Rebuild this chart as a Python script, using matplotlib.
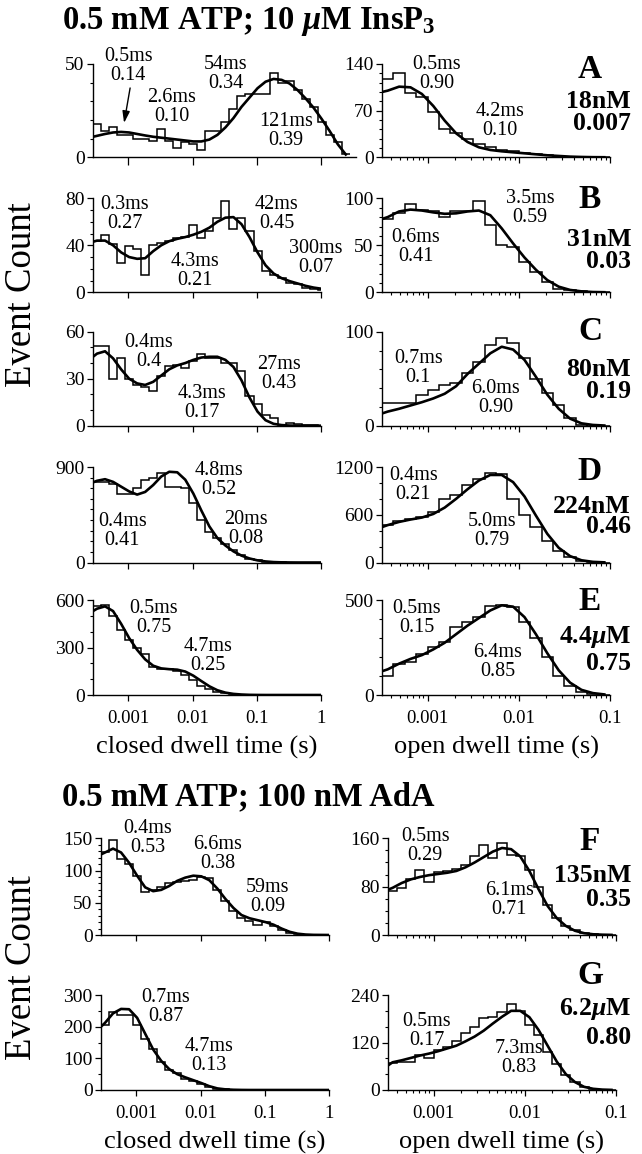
import numpy as np
import matplotlib
matplotlib.use('Agg')
import matplotlib.pyplot as plt
from matplotlib.ticker import LogLocator, NullLocator, NullFormatter, MultipleLocator

plt.rcParams['font.family'] = ['Liberation Serif', 'DejaVu Serif']
plt.rcParams['mathtext.fontset'] = 'custom'
plt.rcParams['mathtext.rm'] = 'Liberation Serif:bold'
plt.rcParams['mathtext.it'] = 'Liberation Serif:italic:bold'
plt.rcParams['mathtext.bf'] = 'Liberation Serif:bold'

# ---- histogram counts (log bins) and fitted curves ----
# closed dwell: bins start at 10^-3.55 s, 8 bins/decade
# open dwell: bins start at 10^-3.5 s, 8 bins/decade (A-E), 10 bins/decade (F,G)
# fits: first value at left axis edge, then one value per bin centre
a_closed = [18, 14, 16, 12, 12, 10, 10, 9, 15, 9, 5, 8, 7, 4, 14, 14, 19, 26, 33, 34,
            34, 34, 45, 40, 41, 36, 31, 27, 19, 12, 8, 2]
a_closed_fit = [11, 11.5, 12.5, 13.3, 13.6, 13.3, 12.5, 11.7, 11, 10.5, 10, 9.5, 9, 8.5,
                8.5, 9.5, 12, 16, 21, 27, 32, 37, 40.5, 42, 41.5, 39.5, 36, 31.5, 26.5,
                20.5, 14, 7, 1.5]
a_open = [117, 126, 97, 91, 68, 43, 36, 28, 20, 16, 11, 9, 7, 5, 3, 2, 1, 1, 0, 0]
a_open_fit = [98, 100, 106, 105, 95, 77, 55, 36, 23, 15, 11, 9, 7.5, 6, 4.5, 3, 2, 1,
              0.5, 0.2, 0.1]

b_closed = [44, 49, 41, 25, 39, 37, 15, 40, 42, 44, 46, 47, 57, 46, 52, 63, 78, 54, 63,
            52, 35, 18, 15, 12, 8, 7, 4, 3, 2]
b_closed_fit = [43, 44, 44, 40, 34, 30, 28.5, 29, 35, 40, 43.5, 45.5, 47, 49, 51.5, 55,
                60, 63.5, 64, 58, 47, 34, 23, 16, 12, 9.5, 7.5, 5.5, 4, 3]
b_open = [78, 84, 94, 88, 87, 80, 87, 87, 97, 72, 50, 48, 32, 22, 11, 4, 2, 1, 0, 0]
b_open_fit = [78, 80, 86, 88, 87, 85, 83.5, 84, 86, 87, 82, 68, 52, 37, 24, 13, 6, 2.5,
              1, 0.3, 0.1]

c_closed = [51, 51, 30, 43, 30, 26, 25, 22, 32, 38, 39, 37, 41, 46, 43, 43, 40, 40, 35,
            19, 14, 7, 5, 0.4, 1.5, 0.8, 0.4, 0.4, 0]
c_closed_fit = [44, 46, 47.5, 43, 36, 30, 27, 26, 28, 32, 36, 38.5, 40, 42, 43.5, 44, 44,
                42, 37.5, 29, 18, 9, 3.5, 1.2, 0.4, 0.1, 0, 0, 0, 0]
c_open = [24, 24, 24, 33, 38, 43, 45, 56, 68, 86, 93, 88, 72, 50, 35, 22, 8, 1, 0, 0]
c_open_fit = [13, 15, 18, 21.5, 25, 29, 34, 42, 55, 66, 77, 84, 81, 70, 52, 33, 18, 7.5,
              2.5, 0.8, 0.2]

d_closed = [763, 763, 738, 645, 645, 700, 780, 795, 840, 715, 715, 700, 560, 400, 290,
            230, 175, 115, 70, 35, 20, 8, 4, 2, 0, 0, 0, 0, 0]
d_closed_fit = [755, 770, 785, 760, 715, 670, 640, 665, 730, 810, 855, 850, 780, 650,
                490, 340, 230, 160, 105, 65, 38, 20, 10, 4, 1.5, 0.5, 0, 0, 0, 0]
d_open = [470, 520, 550, 570, 630, 800, 850, 975, 1045, 1120, 1115, 800, 600, 440, 275,
          150, 65, 20, 5, 0]
d_open_fit = [445, 470, 510, 540, 565, 610, 690, 800, 920, 1030, 1100, 1100, 1010, 830,
              590, 360, 185, 80, 28, 8, 2]

e_closed = [560, 568, 500, 410, 345, 300, 260, 175, 165, 165, 150, 125, 95, 60, 35, 20,
            10, 5, 2, 0, 0, 0, 0, 0, 0, 0, 0, 0, 0]
e_closed_fit = [530, 545, 560, 530, 450, 360, 285, 225, 185, 168, 163, 160, 148, 122, 88,
                55, 30, 15, 7, 3, 1, 0.3, 0, 0, 0, 0, 0, 0, 0, 0]
e_open = [100, 165, 175, 215, 255, 280, 360, 385, 410, 470, 475, 465, 385, 300, 200, 100,
          45, 18, 5, 1]
e_open_fit = [125, 135, 165, 190, 210, 240, 275, 320, 365, 405, 445, 472, 465, 410, 320,
              220, 130, 65, 27, 10, 3]

f_closed = [128, 148, 118, 110, 92, 66, 70, 75, 80, 82, 84, 86, 90, 88, 70, 52, 38, 27,
            22, 16, 20, 14, 8, 3, 1, 0, 0, 0, 0]
f_closed_fit = [125, 128, 134, 128, 112, 92, 74, 68, 70, 76, 84, 89, 92, 91, 85, 72, 56,
                42, 31, 26, 23, 20, 16, 10, 5, 2, 0.7, 0.2, 0.1, 0]
f_open = [73, 78, 92, 108, 88, 105, 106, 110, 116, 130, 149, 127, 153, 132, 130, 108,
          80, 50, 28, 15, 8, 4, 1, 0, 0]
f_open_fit = [75, 78, 86, 92, 96, 99, 101, 103, 106, 112, 120, 129, 138, 144, 142, 130,
              106, 76, 48, 28, 15, 7, 3, 1.2, 0.5, 0.2]

g_closed = [205, 247, 238, 238, 205, 160, 128, 88, 62, 55, 35, 28, 20, 10, 4, 2, 0, 0,
            0, 0, 0, 0, 0, 0, 0, 0, 0, 0, 0]
g_closed_fit = [200, 212, 242, 256, 255, 228, 178, 128, 92, 66, 50, 40, 31, 22, 12, 5, 2,
                0.7, 0.2, 0, 0, 0, 0, 0, 0, 0, 0, 0, 0, 0]
g_open = [68, 70, 72, 88, 82, 100, 108, 125, 145, 160, 182, 185, 196, 218, 200, 165, 140,
          95, 65, 38, 20, 8, 3, 1, 0]
g_open_fit = [62, 70, 75, 81, 87, 92, 98, 105, 112, 123, 135, 150, 168, 185, 200, 200,
              184, 152, 112, 72, 40, 20, 8, 3, 1, 0.3]

letters = ['A', 'B', 'C', 'D', 'E', 'F', 'G']
concs = ['18nM', '31nM', '80nM', '224nM', r'4.4$\mu$M', '135nM', r'6.2$\mu$M']
p_open = ['0.007', '0.03', '0.19', '0.46', '0.75', '0.35', '0.80']

closed_ticks = [[0, 50], [0, 40, 80], [0, 30, 60], [0, 900], [0, 300, 600],
                [0, 50, 100, 150], [0, 100, 200, 300]]
open_ticks = [[0, 70, 140], [0, 50, 100], [0, 100], [0, 600, 1200], [0, 500],
              [0, 80, 160], [0, 120, 240]]
closed_minor = [10, 10, 10, 100, 100, 10, 50]
open_minor = [14, 10, 20, 200, 100, 20, 40]

closed_notes = [
    [('0.5ms\n0.14', 0.134, 0.978), ('2.6ms\n0.10', 0.30, 0.54),
     ('54ms\n0.34', 0.504, 0.896), ('121ms\n0.39', 0.733, 0.28)],
    [('0.3ms\n0.27', 0.14, 0.835), ('42ms\n0.45', 0.806, 0.835),
     ('4.3ms\n0.21', 0.447, 0.223), ('300ms\n0.07', 0.977, 0.362)],
    [('0.4ms\n0.4', 0.243, 0.779), ('4.3ms\n0.17', 0.477, 0.238),
     ('27ms\n0.43', 0.816, 0.552)],
    [('4.8ms\n0.52', 0.553, 0.865), ('0.4ms\n0.41', 0.128, 0.33),
     ('20ms\n0.08', 0.67, 0.352)],
    [('0.5ms\n0.75', 0.265, 0.806), ('4.7ms\n0.25', 0.506, 0.415)],
    [('0.4ms\n0.53', 0.206, 1.008), ('6.6ms\n0.38', 0.513, 0.836),
     ('59ms\n0.09', 0.732, 0.391)],
    [('0.7ms\n0.87', 0.283, 0.877), ('4.7ms\n0.13', 0.472, 0.361)],
]
open_notes = [
    [('0.5ms\n0.90', 0.24, 0.896), ('4.2ms\n0.10', 0.518, 0.386)],
    [('0.6ms\n0.41', 0.148, 0.477), ('3.5ms\n0.59', 0.649, 0.902)],
    [('0.7ms\n0.1', 0.159, 0.61), ('6.0ms\n0.90', 0.499, 0.295)],
    [('0.4ms\n0.21', 0.137, 0.814), ('5.0ms\n0.79', 0.484, 0.335)],
    [('0.5ms\n0.15', 0.152, 0.806), ('6.4ms\n0.85', 0.506, 0.35)],
    [('0.5ms\n0.29', 0.163, 0.922), ('6.1ms\n0.71', 0.532, 0.357)],
    [('0.5ms\n0.17', 0.171, 0.623), ('7.3ms\n0.83', 0.574, 0.333)],
]

closed_data = [(a_closed, a_closed_fit), (b_closed, b_closed_fit), (c_closed, c_closed_fit),
               (d_closed, d_closed_fit), (e_closed, e_closed_fit), (f_closed, f_closed_fit),
               (g_closed, g_closed_fit)]
open_data = [(a_open, a_open_fit), (b_open, b_open_fit), (c_open, c_open_fit),
             (d_open, d_open_fit), (e_open, e_open_fit), (f_open, f_open_fit),
             (g_open, g_open_fit)]

'''
Layout (pixels of the 642x1154 picture)
'''
W, H = 642, 1154
rows = [(64, 157.3), (198.3, 292.3), (331.7, 425.7), (467, 562.5), (600, 695),
        (838.3, 935), (995, 1090)]
label_y = [(69, 101, 123), (200, 240, 261), (332, 370, 391), (471, 506, 527),
           (602, 637, 664), (841, 876, 900), (975, 1009, 1037)]
px_dec = 64.2   # pixels per decade on closed axes


def fig_rect(x0, top, w, bottom):
    return [x0 / W, 1 - bottom / H, w / W, (bottom - top) / H]


def style_axes(ax, ymax, yticks, yminor):
    for s in ['top', 'right']:
        ax.spines[s].set_visible(False)
    for s in ['left', 'bottom']:
        ax.spines[s].set_linewidth(1.0)
    ax.set_xscale('log')
    ax.set_ylim(0, ymax)
    ax.set_yticks(yticks)
    ax.yaxis.set_minor_locator(MultipleLocator(yminor))
    ax.tick_params(which='major', direction='out', length=4.5, width=0.9,
                   labelsize=14, pad=1.5)
    ax.tick_params(which='minor', direction='out', length=2.2, width=0.8)
    ax.xaxis.set_minor_locator(LogLocator(base=10, subs=np.arange(2, 10)))
    ax.xaxis.set_minor_formatter(NullFormatter())
    ax.patch.set_alpha(0)


fig = plt.figure(figsize=(W / 100, H / 100), dpi=100)

for i in range(7):
    top, bottom = rows[i]
    low_group = i >= 5
    last_row = i in (4, 6)

    # closed dwell time panel
    left_x = 101 if low_group else 93
    if i == 0:
        c_hi = 0.55
    else:
        c_hi = 0.0
    ax = fig.add_axes(fig_rect(left_x, top, px_dec * (c_hi + 3.55), bottom))
    counts, fit = closed_data[i]
    n = len(counts)
    edges = 10 ** (-3.55 + 0.125 * np.arange(n + 1))
    centres = 10 ** (-3.55 + 0.125 * (np.arange(n) + 0.5))
    fit_x = np.concatenate([[edges[0]], centres])
    ax.stairs(counts, edges, color='black', lw=1.1, baseline=None)
    ax.plot(fit_x, fit, color='black', lw=1.9)
    style_axes(ax, closed_ticks[i][-1], closed_ticks[i], closed_minor[i])
    ax.set_xlim(10 ** -3.55, 10 ** c_hi)
    ax.set_xticks([1e-3, 1e-2, 1e-1, 1])
    if i == 0:
        ax.xaxis.set_minor_locator(NullLocator())
        ax.tick_params(axis='x', which='major', length=6)
    if last_row:
        ax.set_xticklabels(['0.001', '0.01', '0.1', '1'], fontsize=13.5)
        ax.tick_params(axis='x', pad=6)
        ax.set_xlabel('closed dwell time (s)', fontsize=19, labelpad=7)
    else:
        ax.set_xticklabels([])
    for txt, tx, ty in closed_notes[i]:
        ax.text(tx, ty, txt, transform=ax.transAxes, ha='center', va='center',
                fontsize=14.5, linespacing=1.0)
    if i == 0:
        ax.annotate('', xy=(0.118, 0.368), xytext=(0.141, 0.743),
                    xycoords='axes fraction', textcoords='axes fraction',
                    arrowprops=dict(arrowstyle='-|>,head_length=0.7,head_width=0.22',
                                    color='black', lw=1.0, shrinkA=0, shrinkB=0))

    # open dwell time panel
    right_x = 388 if low_group else 382
    ax = fig.add_axes(fig_rect(right_x, top, 228, bottom))
    counts, fit = open_data[i]
    n = len(counts)
    bw = 0.1 if low_group else 0.125
    edges = 10 ** (-3.5 + bw * np.arange(n + 1))
    centres = 10 ** (-3.5 + bw * (np.arange(n) + 0.5))
    fit_x = np.concatenate([[edges[0]], centres])
    ax.stairs(counts, edges, color='black', lw=1.1, baseline=None)
    ax.plot(fit_x, fit, color='black', lw=1.9)
    style_axes(ax, open_ticks[i][-1], open_ticks[i], open_minor[i])
    ax.set_xlim(10 ** -3.5, 0.1)
    ax.set_xticks([1e-3, 1e-2, 1e-1])
    if last_row:
        ax.set_xticklabels(['0.001', '0.01', '0.1'], fontsize=13.5)
        ax.tick_params(axis='x', pad=6)
        ax.set_xlabel('open dwell time (s)', fontsize=19, labelpad=7)
    else:
        ax.set_xticklabels([])
    for txt, tx, ty in open_notes[i]:
        ax.text(tx, ty, txt, transform=ax.transAxes, ha='center', va='center',
                fontsize=14.5, linespacing=1.0)

    # panel letter, concentration and open probability
    ly, cy, py = label_y[i]
    fig.text(590 / W, 1 - ly / H, letters[i], ha='center', va='center',
             fontsize=24, fontweight='bold')
    fig.text(631 / W, 1 - cy / H, concs[i], ha='right', va='center',
             fontsize=18.5, fontweight='bold')
    fig.text(631 / W, 1 - py / H, p_open[i], ha='right', va='center',
             fontsize=18.5, fontweight='bold')

fig.text(62 / W, 1 - 21.7 / H, r'0.5 mM ATP; 10 $\mu$M InsP$_{\mathbf{3}}$',
         ha='left', va='center', fontsize=23.5, fontweight='bold')
fig.text(62 / W, 1 - 796.7 / H, '0.5 mM ATP; 100 nM AdA',
         ha='left', va='center', fontsize=23.5, fontweight='bold')
fig.text(22 / W, 1 - 295 / H, 'Event Count', rotation=90, ha='center', va='center',
         fontsize=26.5)
fig.text(22 / W, 1 - 968 / H, 'Event Count', rotation=90, ha='center', va='center',
         fontsize=26.5)

plt.savefig('out.png', dpi=100, facecolor='white')
